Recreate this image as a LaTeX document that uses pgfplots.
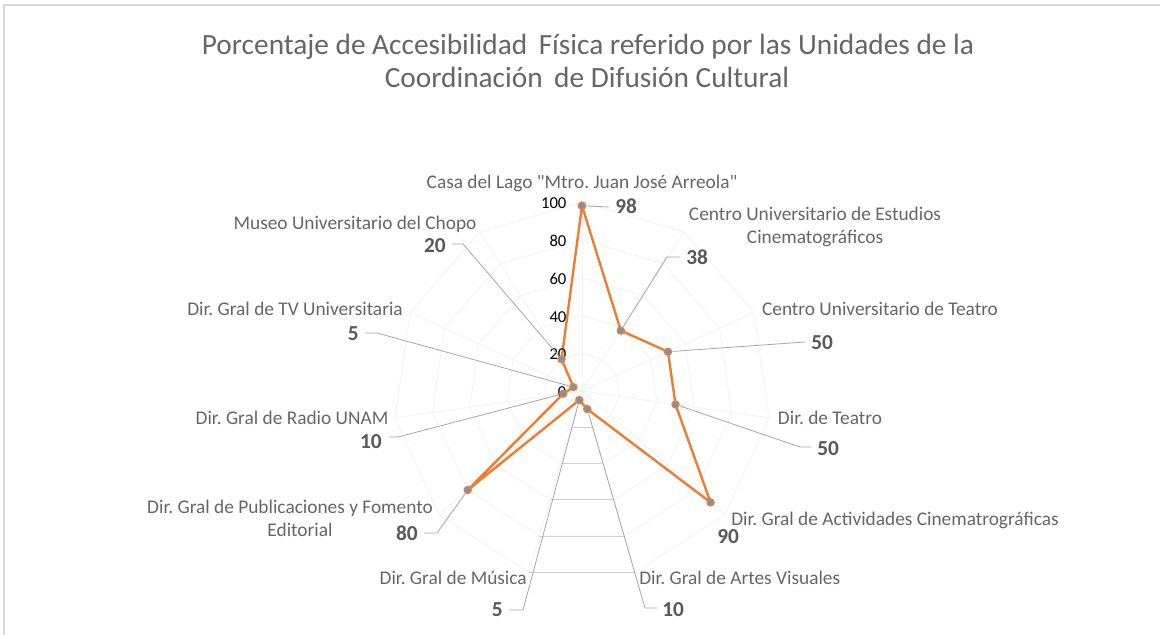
\documentclass[border=0pt]{standalone}
\usepackage{fontspec}
\setmainfont{Carlito}
\usepackage{pgfplots}
\pgfplotsset{compat=1.18}
\usepgfplotslibrary{polar}
\frenchspacing

\definecolor{xlorange}{HTML}{ED7D31}
\definecolor{xlblue}{HTML}{5B9BD5}
\definecolor{txt}{HTML}{666666}
\definecolor{valc}{HTML}{595959}
\definecolor{lead}{HTML}{A6A6A6}
\definecolor{gridc}{HTML}{F2F2F2}
\definecolor{gridd}{HTML}{D0D0D0}

\begin{document}
\begin{tikzpicture}
% page frame, 1 unit = 1 px of the reference
\begin{scope}[x=0.75pt,y=-0.75pt]
\useasboundingbox (0,0) rectangle (1160,635);
\fill[white] (0,0) rectangle (1160,635);
\draw[gray!30, line width=0.9pt] (4,640) -- (4,5) -- (1170,5);
\end{scope}

\begin{polaraxis}[
    at={(436.5pt,-293.25pt)}, anchor=center,
    scale only axis,
    width=283.5pt, height=283.5pt,
    xmin=0, xmax=360,
    ymin=0, ymax=100,
    hide axis,
    clip=false,
]
% rings (polygons) and spokes
\pgfplotsinvokeforeach{20,40,60,80,100}{
  \addplot[gridc, line width=0.6pt, mark=none] coordinates {
    (90,#1) (57.2727,#1) (24.5455,#1) (351.8182,#1) (319.0909,#1) (286.3636,#1)
    (253.6364,#1) (220.9091,#1) (188.1818,#1) (155.4545,#1) (122.7273,#1) (90,#1)};
  \addplot[gridd, line width=0.6pt, mark=none] coordinates {(253.6364,#1) (286.3636,#1)};
}
\pgfplotsinvokeforeach{90,57.2727,24.5455,351.8182,319.0909,286.3636,253.6364,220.9091,188.1818,155.4545,122.7273}{
  \addplot[gridc, line width=0.6pt, mark=none] coordinates {(#1,0) (#1,100)};
}

% accesibilidad fisica (%)
\addplot[xlorange, line width=1.8pt, mark=*, mark size=2.6pt,
  mark options={fill=xlblue, draw=xlorange, line width=1.1pt}] coordinates {
    (90,98) (57.2727,38) (24.5455,50) (351.8182,50) (319.0909,90) (286.3636,10)
    (253.6364,5) (220.9091,80) (188.1818,10) (155.4545,5) (122.7273,20) (90,98)};

\coordinate (p1) at (axis cs:90,98);
\coordinate (p2) at (axis cs:57.2727,38);
\coordinate (p3) at (axis cs:24.5455,50);
\coordinate (p4) at (axis cs:351.8182,50);
\coordinate (p5) at (axis cs:319.0909,90);
\coordinate (p6) at (axis cs:286.3636,10);
\coordinate (p7) at (axis cs:253.6364,5);
\coordinate (p8) at (axis cs:220.9091,80);
\coordinate (p9) at (axis cs:188.1818,10);
\coordinate (p10) at (axis cs:155.4545,5);
\coordinate (p11) at (axis cs:122.7273,20);

\pgfplotsinvokeforeach{0,20,40,60,80,100}{
  \node[anchor=east, inner sep=0pt, xshift=-11.5pt, yshift=-1pt,
    font=\fontsize{12.5}{14}\selectfont] at (axis cs:90,#1) {#1};
}
\end{polaraxis}

\begin{scope}[x=0.75pt,y=-0.75pt,
  lab/.style={text=txt, font=\fontsize{14.5}{16}\selectfont, inner sep=0pt},
  val/.style={text=valc, font=\fontsize{16}{18}\selectfont\bfseries, inner sep=0pt},
  ld/.style={draw=lead, line width=0.6pt, shorten <=3.5pt}]

% title
\node[text=txt, font=\fontsize{22}{26}\selectfont, anchor=base] at (588,55)
  {Porcentaje de Accesibilidad\, Física referido por las Unidades de la};
\node[text=txt, font=\fontsize{22}{26}\selectfont, anchor=base] at (587,88)
  {Coordinación\, de Difusión Cultural};

% leader lines
\draw[ld] (p1) -- (609,207);
\draw[ld] (p2) -- (667,257) -- (680,257);
\draw[ld] (p3) -- (805,342);
\draw[ld] (p4) -- (800,447) -- (811,447);
\draw[ld] (p6) -- (645,608) -- (657,608);
\draw[ld] (p7) -- (523,610) -- (509,610);
\draw[ld] (p8) -- (437,533) -- (424,533);
\draw[ld] (p9) -- (398,437) -- (389,437);
\draw[ld] (p10) -- (377,333) -- (365,333);
\draw[ld] (p11) -- (463,244) -- (452,244);

% category names
\node[lab, anchor=base] at (582,188) {Casa del Lago \textquotedbl Mtro. Juan José Arreola\textquotedbl};
\node[lab, anchor=base] at (815,220) {Centro Universitario de Estudios};
\node[lab, anchor=base] at (815,243) {Cinematográficos};
\node[lab, anchor=base] at (880,315) {Centro Universitario de Teatro};
\node[lab, anchor=base] at (830,424) {Dir. de Teatro};
\node[lab, anchor=base west] at (731,525) {Dir. Gral de Actividades Cinematrográficas};
\node[lab, anchor=base west] at (639,584) {Dir. Gral de Artes Visuales};
\node[lab, anchor=base east] at (527,584) {Dir. Gral de Música};
\node[lab, anchor=base] at (290,513) {Dir. Gral de Publicaciones y Fomento};
\node[lab, anchor=base] at (300,536) {Editorial};
\node[lab, anchor=base] at (292,424) {Dir. Gral de Radio UNAM};
\node[lab, anchor=base] at (295,315) {Dir. Gral de TV Universitaria};
\node[lab, anchor=base] at (355,229) {Museo Universitario del Chopo};

% values
\node[val, anchor=base west] at (615,213) {98};
\node[val, anchor=base west] at (686,264) {38};
\node[val, anchor=base west] at (811,349) {50};
\node[val, anchor=base west] at (817,455) {50};
\node[val, anchor=base west] at (717,543) {90};
\node[val, anchor=base west] at (662,616) {10};
\node[val, anchor=base east] at (503,616) {5};
\node[val, anchor=base east] at (418,540) {80};
\node[val, anchor=base east] at (382,448) {10};
\node[val, anchor=base east] at (359,340) {5};
\node[val, anchor=base east] at (446,252) {20};
\end{scope}
\end{tikzpicture}
\end{document}
